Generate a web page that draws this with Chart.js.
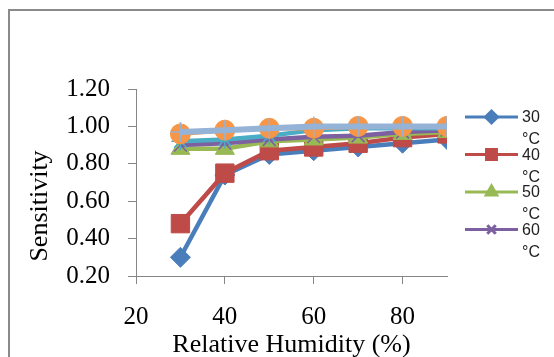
<!DOCTYPE html>
<html>
<head>
<meta charset="utf-8">
<script src="https://cdn.jsdelivr.net/npm/chart.js@4.4.1/dist/chart.umd.min.js"></script>
<style>
  html, body { margin: 0; padding: 0; background: #fff; overflow: hidden; }
  #wrap { position: relative; width: 554px; height: 357px; }
</style>
</head>
<body>
<div id="wrap"><canvas id="chart" width="554" height="357"></canvas></div>
<script>
// الرطوبة النسبية (%)
const humidity = [30, 40, 50, 60, 70, 80, 90];

// الحساسية لكل درجة حرارة
const t30 = [0.30, 0.74, 0.85, 0.87, 0.89, 0.91, 0.93];
const t40 = [0.48, 0.75, 0.87, 0.89, 0.91, 0.94, 0.96];
const t50 = [0.88, 0.88, 0.92, 0.93, 0.94, 0.96, 0.97];
const t60 = [0.90, 0.91, 0.93, 0.945, 0.95, 0.97, 0.98];
const t70 = [0.92, 0.93, 0.95, 0.98, 0.99, 0.99, 0.99];
const t80 = [0.96, 0.98, 0.99, 0.99, 1.00, 1.00, 1.00];
const t90 = [0.97, 0.98, 0.99, 1.00, 1.00, 1.00, 1.00];

const seriesLabels = ["30 °C", "40 °C", "50 °C", "60 °C", "70 °C", "80 °C", "90 °C"];
const yTicks = [0.20, 0.40, 0.60, 0.80, 1.00, 1.20];
const xTicks = [20, 40, 60, 80];
const yTitle = "Sensitivity";
const xTitle = "Relative Humidity (%)";

const seriesValues = [t30, t40, t50, t60, t70, t80, t90];
const colors = ["#4a7ebb", "#be4b48", "#98b954", "#7d60a0", "#4bacc6", "#f79646", "#95b3d7"];
const styles = ["rectRot", "rect", "triangle", "crossRot", "star", "circle", "cross"];
const radii = [10, 13, 11, 9, 9, 10, 10];
const widths = [4.5, 4.5, 4.5, 4.5, 4.5, 4.5, 6];

function toPoints(vals) {
    return humidity.map((h, i) => ({ x: h, y: vals[i] }));
}

const datasets = seriesValues.map((vals, i) => ({
    label: seriesLabels[i],
    data: toPoints(vals),
    borderColor: colors[i],
    backgroundColor: colors[i],
    pointBackgroundColor: colors[i],
    pointBorderColor: colors[i],
    pointStyle: styles[i],
    pointRadius: radii[i],
    pointBorderWidth: (styles[i] === "crossRot" || styles[i] === "star" || styles[i] === "cross") ? 1.5 : 1,
    borderWidth: widths[i],
    tension: 0,
    fill: false,
    order: 10 - i // السلسلة الأخيرة فوق
}));

const serif = "'Liberation Serif', 'Times New Roman', serif";

// إطار المخطط وعنوان المحور الرأسي
const framePlugin = {
    id: "frame",
    beforeDraw(chart) {
        const c = chart.ctx;
        c.save();
        c.strokeStyle = "#8a8a8a";
        c.lineWidth = 2;
        c.strokeRect(9, 10, 600, 400);
        c.restore();
    },
    afterDraw(chart) {
        const c = chart.ctx;
        c.save();
        c.translate(40, 206);
        c.rotate(-Math.PI / 2);
        c.font = "26px " + serif;
        c.fillStyle = "#000";
        c.textAlign = "center";
        c.textBaseline = "middle";
        c.fillText(yTitle, 0, 0);
        c.restore();
    }
};

// وسيلة الإيضاح (أول أربع سلاسل فقط، النص على سطرين)
const legendPlugin = {
    id: "sideLegend",
    afterDraw(chart) {
        const c = chart.ctx;
        c.save();
        for (let i = 0; i < 4; i++) {
            const ds = chart.data.datasets[i];
            const y = 117 + i * 37.5;
            c.strokeStyle = ds.borderColor;
            c.lineWidth = 3;
            c.beginPath();
            c.moveTo(465, y);
            c.lineTo(518, y);
            c.stroke();
            c.fillStyle = ds.backgroundColor;
            c.strokeStyle = ds.borderColor;
            Chart.helpers.drawPoint(c, {
                pointStyle: ds.pointStyle,
                radius: ds.pointStyle === "rect" ? 7 : 6,
                borderWidth: 1.5,
                rotation: 0
            }, 491.5, y);
            c.fillStyle = "#222";
            c.font = "16px 'Liberation Sans', Arial, sans-serif";
            c.textAlign = "left";
            c.textBaseline = "middle";
            const parts = ds.label.split(" ");
            c.fillText(parts[0], 522, y + 1);
            c.fillText(parts[1], 522, y + 23);
        }
        c.restore();
    }
};

const axisFont = { family: serif, size: 25 };
const titleFont = { family: serif, size: 26 };

new Chart(document.getElementById("chart").getContext("2d"), {
    type: "line",
    data: { datasets: datasets },
    options: {
        responsive: false,
        animation: false,
        layout: { padding: { left: 0, top: 89, right: 107, bottom: 0 } },
        plugins: {
            legend: { display: false },
            tooltip: { enabled: false }
        },
        scales: {
            x: {
                type: "linear",
                min: 20,
                max: 90,
                afterBuildTicks(scale) {
                    scale.ticks = xTicks.map(v => ({ value: v }));
                },
                afterFit(scale) { scale.height = 81; },
                grid: { drawOnChartArea: false, drawTicks: true, tickLength: 8, color: "#868686" },
                border: { color: "#868686", width: 1 },
                ticks: { font: axisFont, color: "#000", padding: 18, maxRotation: 0 },
                title: { display: true, text: xTitle, font: titleFont, color: "#000", padding: { top: 0, bottom: -4 } }
            },
            y: {
                min: 0.2,
                max: 1.2,
                afterBuildTicks(scale) {
                    scale.ticks = yTicks.map(v => ({ value: v }));
                },
                afterFit(scale) { scale.width = 136; },
                grid: { drawOnChartArea: false, drawTicks: true, tickLength: 8, color: "#868686" },
                border: { color: "#868686", width: 1 },
                ticks: {
                    font: axisFont,
                    color: "#000",
                    padding: 18,
                    callback: v => Number(v).toFixed(2)
                }
            }
        }
    },
    plugins: [framePlugin, legendPlugin]
});
</script>
</body>
</html>
